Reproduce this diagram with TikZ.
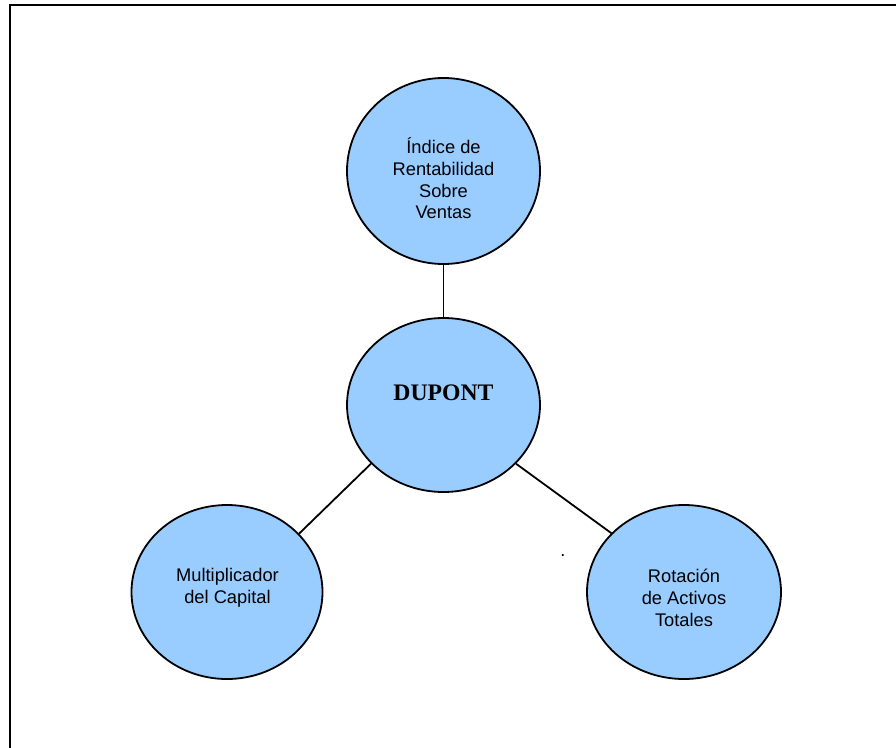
\documentclass[tikz,border=0pt]{standalone}
\usepackage{fontspec}
\setmainfont{Liberation Sans}
\newfontfamily\serifbold{Liberation Serif}
\usetikzlibrary{shapes.geometric,positioning}
\definecolor{bubblefill}{RGB}{153,204,255}
\tikzset{
  bubble/.style={draw=black,line width=1.8pt,fill=bubblefill,ellipse,inner sep=0pt,
    minimum width=193pt,minimum height=174pt},
  txt/.style={align=center,inner sep=0pt,font=\fontsize{18.3}{21.7}\selectfont},
  link/.style={draw=black,line width=1.8pt}
}
\begin{document}
\begin{tikzpicture}[x=1pt,y=-1pt]
\useasboundingbox (0,0) rectangle (896,747);
\clip (0,0) rectangle (896,747);
% frame
\draw[line width=2pt] (10,760) -- (10,5) -- (910,5);
% bubbles
\node[bubble,minimum height=186pt] (ventas) at (443.5,171) {};
\node[bubble] (dupont) at (443.5,405) {};
\node[bubble,minimum width=191pt] (mult) at (227,592) {};
\node[bubble,minimum width=194pt] (rot) at (684,592) {};
% texts
\node[txt] (ventastxt) at (443.5,178.5) {Índice de\\Rentabilidad\\Sobre\\Ventas};
\node[txt,font=\serifbold\bfseries\fontsize{23.7}{28}\selectfont] (duponttxt) at (443.5,393) {DUPONT};
\node[txt] (multtxt) at (227.5,587.5) {Multiplicador\\del Capital};
\node[txt] (rottxt) at (684,598) {Rotación\\de Activos\\Totales};
\node[txt] (dot) at (563,556) {.};
% links
\draw[link] (ventas.south) -- (dupont.north);
\draw[link] (dupont.219) -- (mult.39);
\draw[link] (dupont.-39) -- (rot.141);
\end{tikzpicture}
\end{document}
